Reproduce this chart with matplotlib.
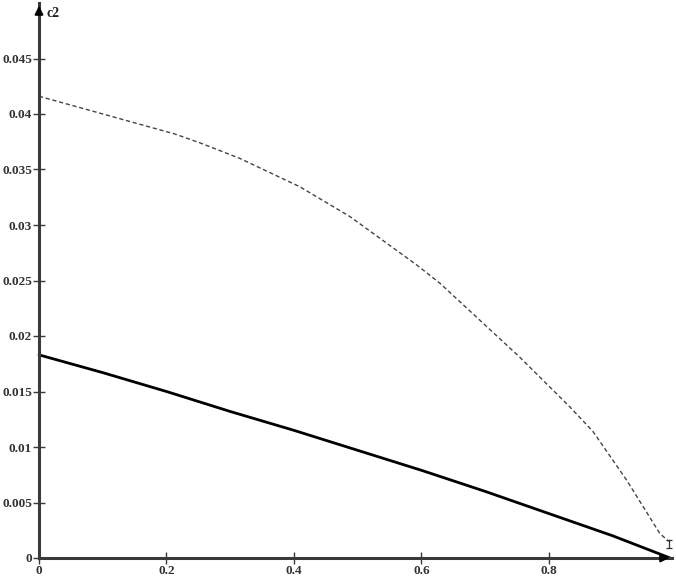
import matplotlib
matplotlib.use("Agg")
import matplotlib.pyplot as plt

# Data
x_dashed = [0.0, 0.119, 0.213, 0.2525, 0.315, 0.409, 0.488, 0.5925, 0.629, 0.692, 0.754, 0.833, 0.869, 0.922, 0.974, 0.988]
y_dashed = [0.0416, 0.0397, 0.0382, 0.0374, 0.0360, 0.03345, 0.03075, 0.0264, 0.02475, 0.0214, 0.0181, 0.0136, 0.0114, 0.0070, 0.0022, 0.0015]
end_bar_x = 0.988
end_bar_y = [0.0009, 0.0016]
x_solid = [0.0, 0.1, 0.2, 0.3, 0.4, 0.5, 0.6, 0.7, 0.8, 0.9, 0.99]
y_solid = [0.0183, 0.0167, 0.0150, 0.0132, 0.0115, 0.0097, 0.0079, 0.0060, 0.0040, 0.0020, 0.0]
x_ticks = [0, 0.2, 0.4, 0.6, 0.8]
x_labels = ["0", "0.2", "0.4", "0.6", "0.8"]
y_ticks = [0, 0.005, 0.01, 0.015, 0.02, 0.025, 0.03, 0.035, 0.04, 0.045]
y_labels = ["0", "0.005", "0.01", "0.015", "0.02", "0.025", "0.03", "0.035", "0.04", "0.045"]
y_axis_label = "c2"

fig = plt.figure(figsize=(6.76, 5.76), dpi=100)
ax = fig.add_axes([39/676, 18/576, 633/676, 555/576])
ax.set_xlim(0, 0.993)
ax.set_ylim(0, 0.05)

axis_col = "#3a3a3a"
ax.plot(x_dashed, y_dashed, color="#444444", lw=1.0, ls=(0, (3, 2)), clip_on=False)
# small end bar on dashed curve
ax.plot([end_bar_x, end_bar_x], end_bar_y, color="#333333", lw=0.9)
ax.plot([end_bar_x, end_bar_x], end_bar_y, color="#333333", lw=0, marker="_", ms=5, mew=0.9)
ax.plot(x_solid, y_solid, color="black", lw=2.0, solid_capstyle="round", clip_on=False)

for s in ["top", "right"]:
    ax.spines[s].set_visible(False)
for s in ["left", "bottom"]:
    ax.spines[s].set_color(axis_col)
    ax.spines[s].set_linewidth(2.2)

font = dict(family="Liberation Serif", weight="bold", size=9.5)
ax.set_xticks(x_ticks)
ax.set_xticklabels(x_labels, fontdict=font, color="#333333")
ax.set_yticks(y_ticks)
ax.set_yticklabels(y_labels, fontdict=font, color="#333333")
ax.tick_params(axis="both", direction="inout", length=8, width=1.0, color=axis_col, pad=1)

# arrows at axis ends
ax.annotate("", xy=(1.0, 0), xycoords="axes fraction", xytext=(0.985, 0),
            arrowprops=dict(arrowstyle="-|>", color="black", lw=1.5, mutation_scale=12), annotation_clip=False)
ax.annotate("", xy=(0, 1.0), xycoords="axes fraction", xytext=(0, 0.985),
            arrowprops=dict(arrowstyle="-|>", color="black", lw=1.5, mutation_scale=12), annotation_clip=False)

ax.text(0.012, 0.992, y_axis_label, transform=ax.transAxes, ha="left", va="top",
        family="Liberation Serif", weight="bold", size=10, color="#222222")

fig.savefig("out.png", dpi=100, facecolor="white")
